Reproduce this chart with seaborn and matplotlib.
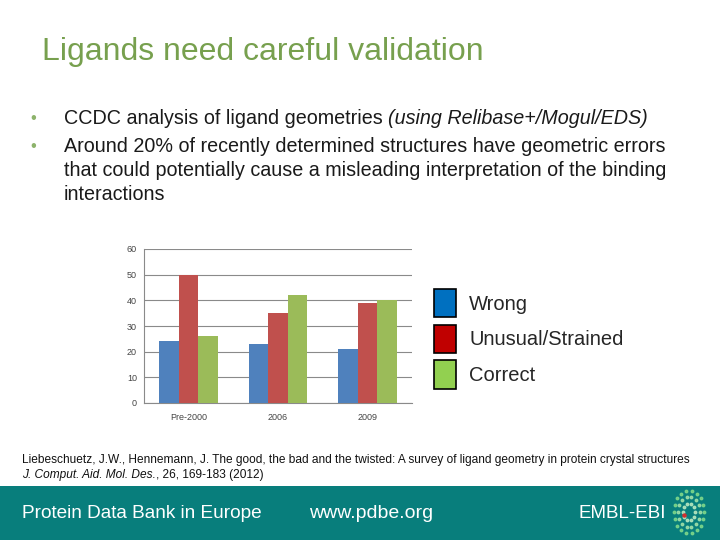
import matplotlib
matplotlib.use("Agg")
import matplotlib.pyplot as plt
from matplotlib.patches import Rectangle, Patch
import seaborn as sns
import pandas as pd
import numpy as np

categories = ["Pre-2000", "2006", "2009"]
series = ["Wrong", "Unusual/Strained", "Correct"]
wrong = [24, 23, 21]
unusual = [50, 35, 39]
correct = [26, 42, 40]
yticks = [0, 10, 20, 30, 40, 50, 60]

bar_colors = ["#4F81BD", "#C0504D", "#9BBB59"]
legend_colors = ["#0070C0", "#C00000", "#92D050"]

rows = []
for name, vals in zip(series, [wrong, unusual, correct]):
    for c, v in zip(categories, vals):
        rows.append({"Period": c, "Series": name, "Value": v})
df = pd.DataFrame(rows)

sns.set_style("white")
plt.rcParams["font.family"] = ["Liberation Sans", "DejaVu Sans"]

fig = plt.figure(figsize=(7.2, 5.4), dpi=100)
W, H = 720, 540

def fx(x):
    return x / W

def fy(y):
    return 1 - y / H

# Title
fig.text(fx(42), fy(52), "Ligands need careful validation", fontsize=23,
         color="#77A04E", va="center", ha="left")

# Bullets
bullet_color = "#8DB36B"
text_color = "#1a1a1a"
bfs = 14.2
for y in [119, 147]:
    fig.text(fx(30), fy(y), "•", fontsize=12, color=bullet_color, va="center")

fig.canvas.draw()
renderer = fig.canvas.get_renderer()
t1 = fig.text(fx(64), fy(119), "CCDC analysis of ligand geometries ", fontsize=bfs,
              color=text_color, va="center")
ext = t1.get_window_extent(renderer)
fig.text(ext.x1 / W, fy(119), "(using Relibase+/Mogul/EDS)", fontsize=bfs,
         color=text_color, va="center", style="italic")
lines = ["Around 20% of recently determined structures have geometric errors",
         "that could potentially cause a misleading interpretation of the binding",
         "interactions"]
for y, s in zip([147, 171, 195], lines):
    fig.text(fx(64), fy(y), s, fontsize=bfs, color=text_color, va="center")

# Chart
ax = fig.add_axes([fx(144), fy(403), fx(412 - 144), (403 - 249) / H])
sns.barplot(data=df, x="Period", y="Value", hue="Series", hue_order=series,
            order=categories, palette=bar_colors, width=0.66, saturation=1,
            legend=False, ax=ax, zorder=3, edgecolor="none")
ax.set_xlim(-0.5, 2.5)
ax.set_ylim(0, 60)
ax.set_yticks(yticks)
ax.yaxis.grid(True, color="#8a8a8a", linewidth=0.8, zorder=0)
ax.set_axisbelow(True)
ax.set_xlabel("")
ax.set_ylabel("")
for s in ["top", "right"]:
    ax.spines[s].set_visible(False)
ax.spines["left"].set_color("#8a8a8a")
ax.spines["bottom"].set_color("#8a8a8a")
ax.tick_params(axis="both", labelsize=6.5, colors="#444444", length=0, pad=5)
ax.tick_params(axis="x", pad=7)

# Legend
handles = [Patch(facecolor=c, edgecolor="black", linewidth=1.2) for c in legend_colors]
fig.legend(handles, series, loc="upper left", bbox_to_anchor=(fx(434), fy(289)),
           frameon=False, fontsize=14.5, handlelength=1.1, handleheight=1.78,
           labelspacing=0.37, handletextpad=0.65, borderpad=0, borderaxespad=0)

# Citation
cfs = 8.6
fig.text(fx(22), fy(460), "Liebeschuetz, J.W., Hennemann, J. The good, the bad and the twisted: "
         "A survey of ligand geometry in protein crystal structures",
         fontsize=cfs, color="#111111", va="center")
t2 = fig.text(fx(22), fy(475), "J. Comput. Aid. Mol. Des.", fontsize=cfs,
              color="#111111", va="center", style="italic")
e2 = t2.get_window_extent(renderer)
fig.text(e2.x1 / W, fy(475), ", 26, 169-183 (2012)", fontsize=cfs,
         color="#111111", va="center")

# Footer band
fig.patches.append(Rectangle((0, 0), 1, fy(486), transform=fig.transFigure,
                             facecolor="#087E7C", edgecolor="none", zorder=0))
fig.text(fx(22), fy(513), "Protein Data Bank in Europe", fontsize=13.7,
         color="white", va="center")
fig.text(fx(309), fy(513), "www.pdbe.org", fontsize=14, color="white", va="center")
fig.text(fx(578), fy(514), "EMBL-EBI", fontsize=13.5, color="white", va="center")

# small logo approximation
cx, cy = 689, 512
for r, n, col in [(17, 18, "#7fd88a"), (12, 14, "#9fe0a8"), (7, 10, "#b8e8c0")]:
    ang = np.linspace(0, 2 * np.pi, n, endpoint=False)
    fig.add_artist(plt.Line2D(fx(cx + 0.9 * r * np.cos(ang)), fy(cy + 1.25 * r * np.sin(ang)),
                              transform=fig.transFigure, linestyle="none",
                              marker="o", markersize=1.8, color=col, alpha=0.85))
fig.add_artist(plt.Line2D([fx(684)], [fy(515)], transform=fig.transFigure,
                          linestyle="none", marker="o", markersize=2.2, color="#d03030"))

fig.savefig("out.png", dpi=100)
